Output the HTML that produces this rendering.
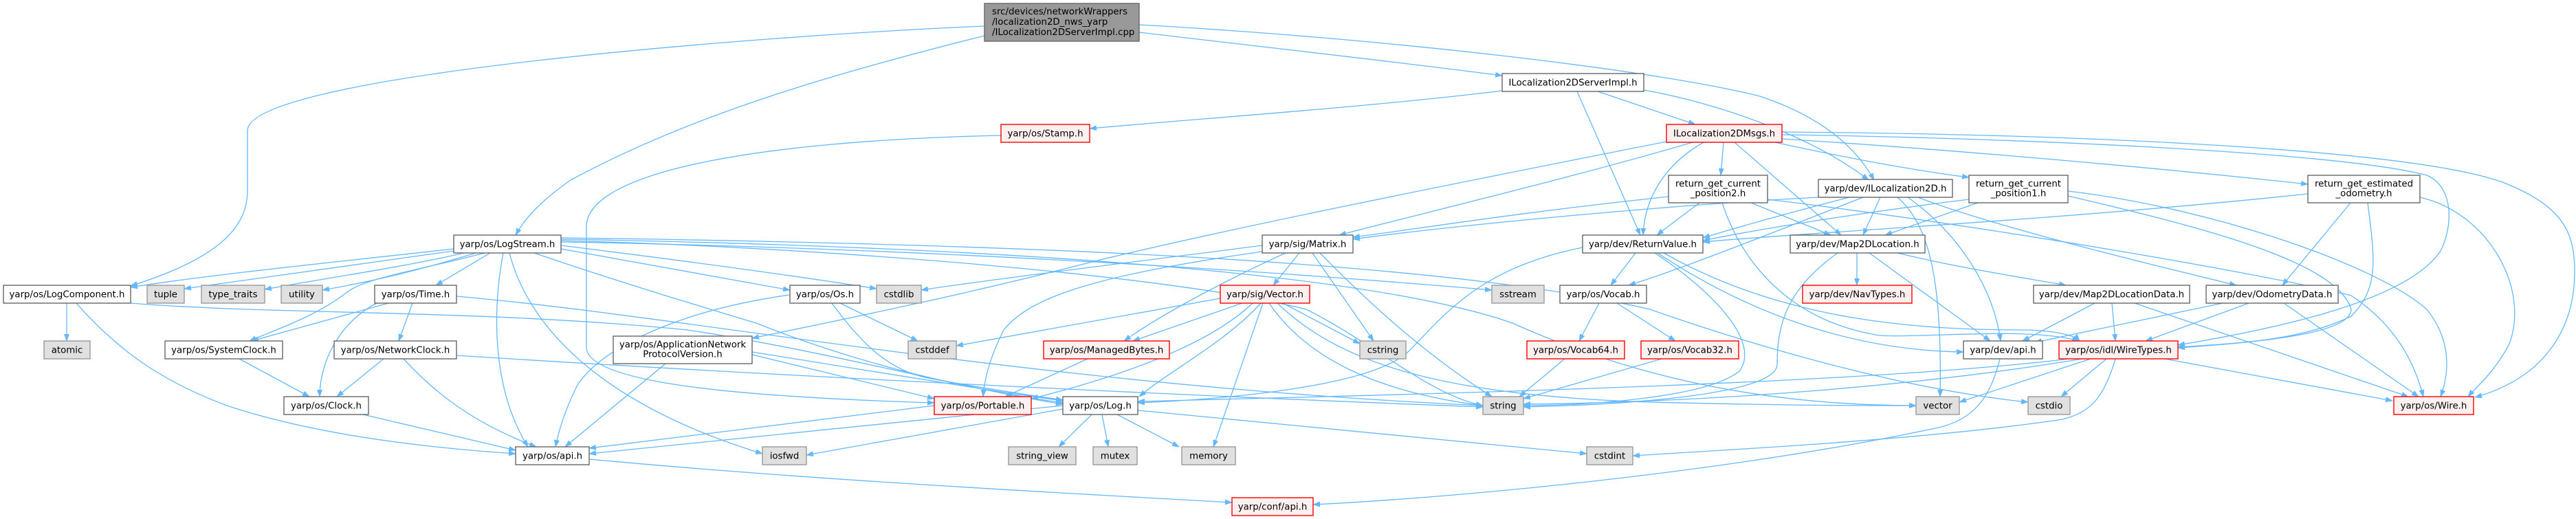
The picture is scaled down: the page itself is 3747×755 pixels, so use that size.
<!DOCTYPE html>
<html><head><meta charset="utf-8"><style>
html,body{margin:0;padding:0;background:#fff;}
svg{display:block;}
text{font-family:"DejaVu Sans","Liberation Sans",sans-serif;font-size:13.33px;fill:#000;}
.w{fill:#fff;stroke:#666;stroke-width:1.4}
.g{fill:#e0e0e0;stroke:#999;stroke-width:1.4}
.r{fill:#fff0f0;stroke:#f00;stroke-width:1.4}
.t{fill:#999;stroke:#666;stroke-width:1.4}
</style></head><body>
<svg width="3747" height="755" viewBox="0 0 3747 755" xmlns="http://www.w3.org/2000/svg">
<defs><marker id="a" markerWidth="11" markerHeight="8" refX="10" refY="4" orient="auto" markerUnits="userSpaceOnUse"><path d="M0,0 L11,4 L0,8 z" fill="#63b8ff"/></marker></defs>
<g fill="none" stroke="#63b8ff" stroke-width="1.3" marker-end="url(#a)">
<path d="M1432,38 C1100,52 360,110 360,190 L360,277 C360,330 320,375 190,416"/>
<path d="M1432,52 C1200,110 1000,170 830,262 C790,290 765,315 750,342"/>
<path d="M1657,47 C1800,64 2050,92 2185,110"/>
<path d="M1657,36 C2000,55 2400,100 2560,140 C2650,170 2700,215 2726,262"/>
<path d="M2185,132 C2000,155 1750,172 1585,187"/>
<path d="M2294,133 L2386,342"/>
<path d="M2324,133 L2466,181"/>
<path d="M2391,131 C2500,150 2640,200 2718,262"/>
<path d="M1456,197 C1100,205 853,250 853,330 L853,505 C853,560 1100,578 1359,586"/>
<path d="M2462,207 C2300,255 2050,315 1948,342"/>
<path d="M2424,206 C2100,270 1800,330 1600,378 C1400,430 1200,470 1094,492"/>
<path d="M2478,207 C2420,240 2392,290 2390,342"/>
<path d="M2507,207 L2503,255"/>
<path d="M2523,207 L2678,342"/>
<path d="M2582,207 C2700,233 2800,250 2864,258"/>
<path d="M2592,202 C2800,215 3100,240 3357,268"/>
<path d="M2592,196 C2900,200 3400,220 3530,255 C3570,272 3568,330 3550,365 C3500,440 3300,480 3168,502"/>
<path d="M2592,192 C3000,195 3500,215 3640,265 C3730,300 3745,340 3745,395 C3745,480 3700,550 3600,578"/>
<path d="M660,362 C500,380 300,400 190,418"/>
<path d="M660,365 C520,385 380,405 268,420"/>
<path d="M675,368 C580,390 470,405 385,421"/>
<path d="M692,368 C620,390 540,410 469,422"/>
<path d="M713,368 L634,415"/>
<path d="M705,368 C600,395 530,405 505,425 C460,460 400,480 363,496"/>
<path d="M732,368 C718,440 712,560 768,650"/>
<path d="M741,368 C770,480 880,590 1109,660"/>
<path d="M777,368 C900,410 1000,440 1100,470 C1250,530 1400,565 1546,586"/>
<path d="M816,362 L1149,422"/>
<path d="M816,357 C1000,380 1150,400 1275,420"/>
<path d="M816,352 C1300,360 1800,390 2170,422"/>
<path d="M816,350 C1200,360 1700,400 1900,450 C2000,500 2080,575 2157,590"/>
<path d="M816,348 C1500,360 2000,400 2200,470 C2400,560 2600,590 2787,590"/>
<path d="M816,346 C1500,355 2100,380 2400,450 C2600,520 2800,570 2950,585"/>
<path d="M97,441 L97,496"/>
<path d="M111,441 C180,520 250,560 330,590 C450,630 600,650 750,660"/>
<path d="M190,441 C400,458 700,450 1000,480 C1200,510 1400,565 1546,588"/>
<path d="M565,441 L366,496"/>
<path d="M548,441 C500,465 465,520 465,577"/>
<path d="M600,441 L580,496"/>
<path d="M664,431 C1000,460 1500,560 2157,590"/>
<path d="M348,522 L450,577"/>
<path d="M558,522 L490,577"/>
<path d="M587,522 C640,580 700,620 780,650"/>
<path d="M664,517 C1100,545 1700,575 2157,592"/>
<path d="M528,603 L750,655"/>
<path d="M857,668 C1200,700 1600,720 1792,731"/>
<path d="M1222,441 L1335,496"/>
<path d="M1148,429 C1000,450 880,500 840,560 C820,600 812,630 808,650"/>
<path d="M1210,441 C1260,510 1300,540 1350,550 C1430,565 1500,575 1546,582"/>
<path d="M968,529 L822,650"/>
<path d="M1094,516 L1359,580"/>
<path d="M1094,512 C1300,545 1450,570 1546,583"/>
<path d="M1359,590 L857,652"/>
<path d="M1546,590 L857,660"/>
<path d="M1546,595 L1173,662"/>
<path d="M1588,603 L1540,650"/>
<path d="M1603,603 L1612,650"/>
<path d="M1625,603 L1715,650"/>
<path d="M1655,597 C1900,620 2150,645 2308,660"/>
<path d="M1582,522 L1462,577"/>
<path d="M1775,434 L1391,503"/>
<path d="M1807,441 L1648,496"/>
<path d="M1822,441 C1760,500 1640,545 1500,580"/>
<path d="M1834,441 C1780,500 1700,540 1657,577"/>
<path d="M1837,441 L1765,650"/>
<path d="M1866,441 L1978,500"/>
<path d="M1846,441 C1900,520 2000,570 2157,590"/>
<path d="M1858,441 C1950,530 2100,575 2400,585 C2600,590 2700,590 2787,590"/>
<path d="M1890,368 L1852,415"/>
<path d="M1909,368 L1998,496"/>
<path d="M1836,357 C1700,375 1450,405 1340,422"/>
<path d="M1870,368 C1800,400 1700,450 1635,496"/>
<path d="M1836,366 C1600,400 1500,430 1460,480 C1440,520 1432,550 1430,577"/>
<path d="M1920,368 C2000,450 2080,520 2170,577"/>
<path d="M2379,368 L2343,415"/>
<path d="M2407,368 C2500,430 2560,500 2530,540 C2480,580 2300,590 2216,590"/>
<path d="M2411,368 C2550,460 2700,510 2856,512"/>
<path d="M2302,360 C2150,390 2100,460 2050,510 C2000,560 1800,580 1655,586"/>
<path d="M2420,368 C2600,470 2800,480 2950,480 C3000,482 3020,490 3025,496"/>
<path d="M2701,368 L2701,415"/>
<path d="M2719,368 L2895,496"/>
<path d="M2673,368 C2600,420 2585,470 2585,530 C2585,570 2400,588 2216,592"/>
<path d="M2760,368 C2850,390 2950,405 3005,415"/>
<path d="M2645,287 C2400,300 2100,330 1968,348"/>
<path d="M2690,287 C2600,310 2530,330 2477,346"/>
<path d="M2710,287 C2600,330 2450,390 2369,415"/>
<path d="M2735,287 L2710,342"/>
<path d="M2760,287 C2810,330 2825,420 2822,577"/>
<path d="M2775,287 C2850,340 2900,420 2910,496"/>
<path d="M2790,287 C2900,330 3150,390 3253,415"/>
<path d="M2427,286 C2200,310 2050,335 1968,345"/>
<path d="M2472,295 L2410,342"/>
<path d="M2547,295 L2663,342"/>
<path d="M2505,295 C2540,400 2620,470 2734,488 C2800,492 2950,475 3024,496"/>
<path d="M2571,290 C2900,330 3300,400 3420,430 C3480,470 3510,520 3525,577"/>
<path d="M2864,290 C2700,310 2550,335 2477,350"/>
<path d="M2877,295 L2742,342"/>
<path d="M3008,285 C3200,330 3400,380 3420,450 C3420,490 3250,500 3168,505"/>
<path d="M3008,278 C3200,300 3450,380 3530,450 C3570,500 3560,550 3550,577"/>
<path d="M3357,282 C3000,320 2600,340 2477,352"/>
<path d="M3419,295 L3320,415"/>
<path d="M3444,295 C3455,380 3460,420 3420,460 C3350,495 3250,500 3168,506"/>
<path d="M3520,287 C3620,310 3680,420 3650,500 C3630,540 3600,565 3590,577"/>
<path d="M3047,441 L2942,496"/>
<path d="M3072,441 L3077,496"/>
<path d="M3105,441 L3503,577"/>
<path d="M3233,441 L2960,498"/>
<path d="M3271,441 L3121,496"/>
<path d="M3322,441 L3518,577"/>
<path d="M3029,522 C2800,560 2500,585 2216,588"/>
<path d="M3041,522 L2850,585"/>
<path d="M3064,522 L2998,577"/>
<path d="M3149,522 L3480,583"/>
<path d="M3077,522 C3060,580 3040,600 3000,610 C2800,640 2500,655 2375,663"/>
<path d="M3010,522 C2700,560 2000,575 1655,584"/>
<path d="M2909,522 C2895,580 2870,610 2820,622 C2500,690 2100,725 1910,734"/>
<path d="M2326,441 L2297,496"/>
<path d="M2352,441 L2437,496"/>
<path d="M2276,522 L2210,577"/>
<path d="M2417,522 L2216,580"/>
</g>

<!-- nodes -->
<rect class="t" x="1432" y="5" width="225" height="55"/>
<text x="1443" y="21">src/devices/networkWrappers</text>
<text x="1443" y="36">/localization2D_nws_yarp</text>
<text x="1443" y="51">/ILocalization2DServerImpl.cpp</text>

<g text-anchor="middle">
<rect class="w" x="2185" y="107" width="206" height="26"/><text x="2288" y="124.5">ILocalization2DServerImpl.h</text>
<rect class="r" x="1456" y="181" width="129" height="26"/><text x="1520.5" y="198.5">yarp/os/Stamp.h</text>
<rect class="r" x="2424" y="181" width="168" height="26"/><text x="2508" y="198.5">ILocalization2DMsgs.h</text>

<rect class="w" x="2427" y="255" width="144" height="40"/><text x="2499" y="271.5">return_get_current</text><text x="2499" y="285.5">_position2.h</text>
<rect class="w" x="2645" y="261" width="195" height="26"/><text x="2742.5" y="278.5">yarp/dev/ILocalization2D.h</text>
<rect class="w" x="2864" y="255" width="144" height="40"/><text x="2936" y="271.5">return_get_current</text><text x="2936" y="285.5">_position1.h</text>
<rect class="w" x="3357" y="255" width="163" height="40"/><text x="3438.5" y="271.5">return_get_estimated</text><text x="3438.5" y="285.5">_odometry.h</text>

<rect class="w" x="660" y="342" width="156" height="26"/><text x="738" y="359.5">yarp/os/LogStream.h</text>
<rect class="w" x="1836" y="342" width="132" height="26"/><text x="1902" y="359.5">yarp/sig/Matrix.h</text>
<rect class="w" x="2302" y="342" width="175" height="26"/><text x="2389.5" y="359.5">yarp/dev/ReturnValue.h</text>
<rect class="w" x="2604" y="342" width="196" height="26"/><text x="2702" y="359.5">yarp/dev/Map2DLocation.h</text>

<rect class="w" x="5" y="415" width="185" height="26"/><text x="97.5" y="432.5">yarp/os/LogComponent.h</text>
<rect class="g" x="214" y="415" width="54" height="26"/><text x="241" y="432.5">tuple</text>
<rect class="g" x="293" y="415" width="92" height="26"/><text x="339" y="432.5">type_traits</text>
<rect class="g" x="409" y="415" width="60" height="26"/><text x="439" y="432.5">utility</text>
<rect class="w" x="545" y="415" width="119" height="26"/><text x="604.5" y="432.5">yarp/os/Time.h</text>
<rect class="w" x="1149" y="415" width="102" height="26"/><text x="1200" y="432.5">yarp/os/Os.h</text>
<rect class="g" x="1275" y="415" width="65" height="26"/><text x="1307.5" y="432.5">cstdlib</text>
<rect class="r" x="1775" y="415" width="130" height="26"/><text x="1840" y="432.5">yarp/sig/Vector.h</text>
<rect class="g" x="2170" y="415" width="76" height="26"/><text x="2208" y="432.5">sstream</text>
<rect class="w" x="2269" y="415" width="126" height="26"/><text x="2332" y="432.5">yarp/os/Vocab.h</text>
<rect class="r" x="2622" y="415" width="159" height="26"/><text x="2701.5" y="432.5">yarp/dev/NavTypes.h</text>
<rect class="w" x="2958" y="415" width="227" height="26"/><text x="3071.5" y="432.5">yarp/dev/Map2DLocationData.h</text>
<rect class="w" x="3209" y="415" width="192" height="26"/><text x="3305" y="432.5">yarp/dev/OdometryData.h</text>

<rect class="g" x="64" y="496" width="67" height="26"/><text x="97.5" y="513.5">atomic</text>
<rect class="w" x="240" y="496" width="171" height="26"/><text x="325.5" y="513.5">yarp/os/SystemClock.h</text>
<rect class="w" x="486" y="496" width="178" height="26"/><text x="575" y="513.5">yarp/os/NetworkClock.h</text>
<rect class="w" x="892" y="489" width="202" height="40"/><text x="993" y="505.5">yarp/os/ApplicationNetwork</text><text x="993" y="519.5">ProtocolVersion.h</text>
<rect class="g" x="1321" y="496" width="70" height="26"/><text x="1356" y="513.5">cstddef</text>
<rect class="r" x="1518" y="496" width="183" height="26"/><text x="1609.5" y="513.5">yarp/os/ManagedBytes.h</text>
<rect class="g" x="1978" y="496" width="67" height="26"/><text x="2011.5" y="513.5">cstring</text>
<rect class="r" x="2221" y="496" width="142" height="26"/><text x="2292" y="513.5">yarp/os/Vocab64.h</text>
<rect class="r" x="2387" y="496" width="142" height="26"/><text x="2458" y="513.5">yarp/os/Vocab32.h</text>
<rect class="w" x="2856" y="496" width="115" height="26"/><text x="2913.5" y="513.5">yarp/dev/api.h</text>
<rect class="r" x="2995" y="496" width="173" height="26"/><text x="3081.5" y="513.5">yarp/os/idl/WireTypes.h</text>

<rect class="w" x="413" y="577" width="123" height="26"/><text x="474.5" y="594.5">yarp/os/Clock.h</text>
<rect class="r" x="1359" y="577" width="141" height="26"/><text x="1429.5" y="594.5">yarp/os/Portable.h</text>
<rect class="w" x="1546" y="577" width="109" height="26"/><text x="1600.5" y="594.5">yarp/os/Log.h</text>
<rect class="g" x="2157" y="577" width="59" height="26"/><text x="2186.5" y="594.5">string</text>
<rect class="g" x="2787" y="577" width="63" height="26"/><text x="2818.5" y="594.5">vector</text>
<rect class="g" x="2950" y="577" width="61" height="26"/><text x="2980.5" y="594.5">cstdio</text>
<rect class="r" x="3482" y="577" width="116" height="26"/><text x="3540" y="594.5">yarp/os/Wire.h</text>

<rect class="w" x="750" y="650" width="107" height="26"/><text x="803.5" y="667.5">yarp/os/api.h</text>
<rect class="g" x="1109" y="650" width="64" height="26"/><text x="1141" y="667.5">iosfwd</text>
<rect class="g" x="1467" y="650" width="98" height="26"/><text x="1516" y="667.5">string_view</text>
<rect class="g" x="1590" y="650" width="64" height="26"/><text x="1622" y="667.5">mutex</text>
<rect class="g" x="1719" y="650" width="78" height="26"/><text x="1758" y="667.5">memory</text>
<rect class="g" x="2308" y="650" width="67" height="26"/><text x="2341.5" y="667.5">cstdint</text>

<rect class="r" x="1792" y="724" width="118" height="26"/><text x="1851" y="741.5">yarp/conf/api.h</text>
</g>
</svg>
</body></html>
